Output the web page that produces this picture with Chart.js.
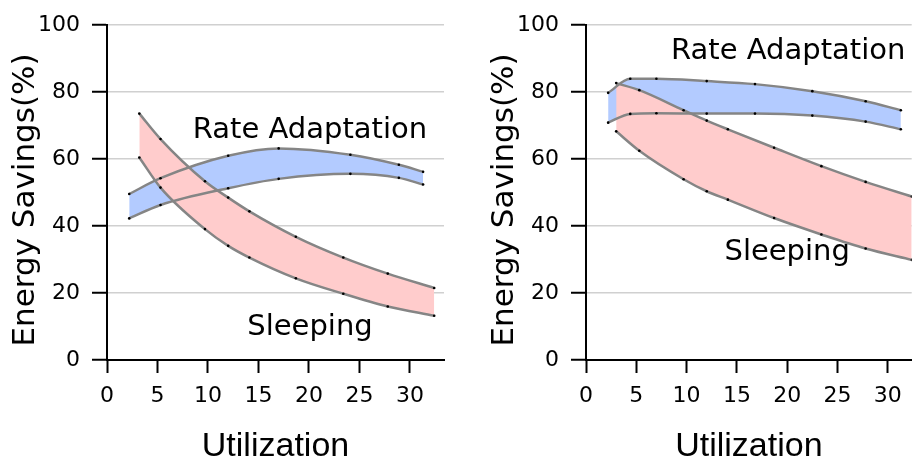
<!DOCTYPE html>
<html>
<head>
<meta charset="utf-8">
<script src="https://cdn.jsdelivr.net/npm/chart.js@4.4.1/dist/chart.umd.min.js"></script>
<style>
  html, body { margin: 0; padding: 0; background: #fff; overflow: hidden; }
  #wrap { position: relative; width: 913px; height: 464px; }
  canvas { position: absolute; top: 0; }
  #left { left: 0; }
  #right { left: 460px; }
</style>
</head>
<body>
<div id="wrap">
  <canvas id="left" width="460" height="464"></canvas>
  <canvas id="right" width="453" height="464"></canvas>
</div>
<script>
// axis ticks and texts
const xTicks = [0, 5, 10, 15, 20, 25, 30];
const yTicks = [0, 20, 40, 60, 80, 100];
const xTitle = "Utilization";
const yTitle = "Energy Savings(%)";
const rateLabel = "Rate Adaptation";
const sleepLabel = "Sleeping";

// left panel
const leftSleepX = [3.2, 5.3, 9.7, 12, 14.1, 18.7, 23.4, 27.8, 32.4];
const leftSleepHigh = [73.6, 66.0, 53.4, 48.5, 44.4, 36.8, 30.6, 25.8, 21.5];
const leftSleepLow = [60.5, 51.5, 39.1, 34.1, 30.6, 24.4, 19.8, 16.0, 13.2];
const leftRateX = [2.2, 5.3, 12, 17, 24.1, 28.9, 31.3];
const leftRateHigh = [49.6, 54.3, 61.0, 63.2, 61.3, 58.3, 56.2];
const leftRateLow = [42.3, 46.3, 51.3, 54.1, 55.6, 54.4, 52.4];

// right panel
const rightSleepX = [3.0, 5.3, 9.7, 12, 14.1, 18.7, 23.4, 27.8, 32.4];
const rightSleepHigh = [82.7, 80.6, 74.6, 71.5, 68.9, 63.4, 57.9, 53.2, 48.8];
const rightSleepLow = [68.3, 62.5, 54.0, 50.4, 47.9, 42.4, 37.5, 33.3, 29.9];
const rightRateX = [2.2, 4.4, 7.0, 12, 16.8, 22.5, 27.8, 31.3];
const rightRateHigh = [79.8, 84.0, 84.0, 83.3, 82.4, 80.3, 77.3, 74.6];
const rightRateLow = [70.9, 73.5, 73.7, 73.6, 73.6, 73.0, 71.2, 68.9];

Chart.defaults.font.family = "'DejaVu Sans'";
Chart.defaults.color = "#000";

const curve = {
  borderColor: "#858585",
  borderWidth: 2.5,
  pointRadius: 1.3,
  pointBackgroundColor: "#000",
  pointBorderWidth: 0,
  pointHoverRadius: 0,
  cubicInterpolationMode: "monotone",
};

function band(xs, lows, highs, color) {
  return [
    { ...curve, data: xs.map((x, i) => ({ x, y: lows[i] })), fill: false },
    { ...curve, data: xs.map((x, i) => ({ x, y: highs[i] })), fill: "-1", backgroundColor: color },
  ];
}

// texts inside the plot + rotated y title
const panelText = {
  id: "panelText",
  afterDraw(chart, args, opts) {
    const { ctx } = chart;
    const { x, y } = chart.scales;
    ctx.save();
    ctx.fillStyle = "#000";
    ctx.textAlign = "center";
    ctx.textBaseline = "alphabetic";
    ctx.font = "29px 'DejaVu Sans'";
    opts.notes.forEach((n) => {
      ctx.fillText(n.text, x.getPixelForValue(n.x), y.getPixelForValue(n.y));
    });
    ctx.font = "31px 'DejaVu Sans'";
    ctx.translate(opts.titleX, opts.titleY);
    ctx.rotate(-Math.PI / 2);
    ctx.fillText(yTitle, 0, 0);
    ctx.restore();
  },
};

function makeChart(id, sleep, rate, xMax, yWidth, padRight, notes, titleX) {
  return new Chart(document.getElementById(id), {
    type: "line",
    data: { datasets: [...sleep, ...rate] },
    plugins: [panelText],
    options: {
      responsive: false,
      animation: false,
      devicePixelRatio: 1,
      layout: { padding: { top: 22, right: padRight, bottom: 0, left: 0 } },
      plugins: {
        legend: { display: false },
        tooltip: { enabled: false },
        filler: { drawTime: "beforeDatasetsDraw" },
        panelText: { notes, titleX, titleY: 200 },
      },
      scales: {
        x: {
          type: "linear",
          min: 0,
          max: xMax,
          afterBuildTicks: (s) => { s.ticks = xTicks.map((v) => ({ value: v })); },
          afterFit: (s) => { s.height = 104; },
          grid: { drawOnChartArea: false, tickLength: 13, tickWidth: 2, tickColor: "#000" },
          border: { color: "#000", width: 2 },
          ticks: { padding: 10, font: { size: 22 }, maxRotation: 0, autoSkip: false },
          title: {
            display: true,
            text: xTitle,
            font: { family: "'Liberation Sans'", size: 34, lineHeight: 1 },
            padding: 0,
          },
        },
        y: {
          min: 0,
          max: 100,
          afterBuildTicks: (s) => { s.ticks = yTicks.map((v) => ({ value: v })); },
          afterFit: (s) => { s.width = yWidth; },
          grid: { color: "#d0d0d0", lineWidth: 1.5, tickLength: 15, tickWidth: 2, tickColor: "#000" },
          border: { color: "#000", width: 2 },
          ticks: { padding: 12, font: { size: 22 } },
        },
      },
    },
  });
}

makeChart(
  "left",
  band(leftSleepX, leftSleepLow, leftSleepHigh, "#ffcccc"),
  band(leftRateX, leftRateLow, leftRateHigh, "#b3cbff"),
  33.37, 107, 16,
  [
    { text: rateLabel, x: 20.1, y: 66.3 },
    { text: sleepLabel, x: 20.1, y: 7.4 },
  ],
  34
);

makeChart(
  "right",
  band(rightSleepX, rightSleepLow, rightSleepHigh, "#ffcccc"),
  band(rightRateX, rightRateLow, rightRateHigh, "#b3cbff"),
  32.38, 126, 0,
  [
    { text: rateLabel, x: 20.1, y: 89.9 },
    { text: sleepLabel, x: 20.0, y: 29.8 },
  ],
  53
);
</script>
</body>
</html>
